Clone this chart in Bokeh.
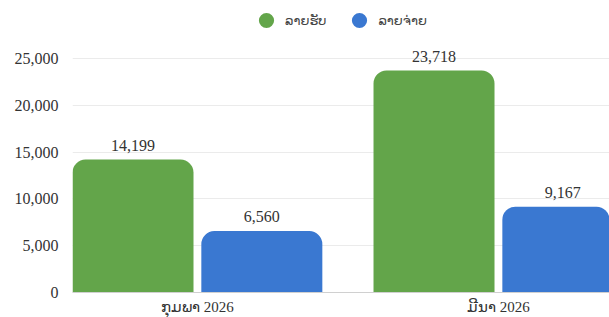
from bokeh.plotting import figure
from bokeh.models import ColumnDataSource, Range1d, FixedTicker, NumeralTickFormatter, Legend, LegendItem
from bokeh.core.properties import value
from bokeh.embed import file_html
from bokeh.resources import INLINE

months = ["ກຸມພາ 2026", "ມີນາ 2026"]
income = [14199, 23718]
expense = [6560, 9167]
series = ["ລາຍຮັບ", "ລາຍຈ່າຍ"]
y_ticks = [0, 5000, 10000, 15000, 20000, 25000]

GREEN = "#63a54a"
BLUE = "#3a78d1"
TEXT = "#333333"

pos = [i + 0.5 for i in range(len(months))]
off = 0.214
bw = 0.402

p = figure(width=609, height=317, x_range=Range1d(0.085, 1.869), y_range=Range1d(0, 31197),
           output_backend="svg", toolbar_location=None,
           min_border_left=72, min_border_right=0, min_border_top=0, min_border_bottom=25)
p.outline_line_color = None
p.background_fill_color = "white"
p.border_fill_color = "white"

src_i = ColumnDataSource(dict(x=[c - off for c in pos], top=income, lab=[f"{v:,}" for v in income]))
src_e = ColumnDataSource(dict(x=[c + off for c in pos], top=expense, lab=[f"{v:,}" for v in expense]))

p.vbar(x="x", top="top", width=bw, source=src_i, fill_color=GREEN, line_color=None,
       border_radius=(13, 13, 0, 0))
p.vbar(x="x", top="top", width=bw, source=src_e, fill_color=BLUE, line_color=None,
       border_radius=(13, 13, 0, 0))

for s in (src_i, src_e):
    p.text(x="x", y="top", text="lab", source=s, text_align="center", text_baseline="bottom",
           y_offset=-9, text_font=value("Liberation Serif"), text_font_size="16px", text_color=TEXT)

# legend swatches: zero-size markers (invisible in the plot, drawn in the legend)
g1 = p.scatter(x="x", y="top", source=src_i, size=0, marker="circle",
               fill_color=GREEN, line_color=None)
g2 = p.scatter(x="x", y="top", source=src_e, size=0, marker="circle",
               fill_color=BLUE, line_color=None)
legend = Legend(items=[LegendItem(label=series[0], renderers=[g1]),
                       LegendItem(label=series[1], renderers=[g2])],
                orientation="horizontal", location=(175, 253),
                glyph_width=38, glyph_height=38, padding=0, margin=0, spacing=14,
                label_standoff=0, border_line_alpha=0, background_fill_alpha=0,
                label_text_font="DejaVu Sans", label_text_font_size="13px",
                label_text_color="#444444", label_text_baseline="middle")
p.add_layout(legend)

# axes
p.xgrid.grid_line_color = None
p.ygrid.grid_line_color = "#ebebeb"
p.yaxis.ticker = FixedTicker(ticks=y_ticks)
p.yaxis.formatter = NumeralTickFormatter(format="0,0")
p.yaxis.axis_line_color = None
p.yaxis.major_tick_line_color = None
p.yaxis.minor_tick_line_color = None
p.yaxis.major_label_standoff = 8
p.yaxis.major_label_text_font = "Liberation Serif"
p.yaxis.major_label_text_font_size = "16px"
p.yaxis.major_label_text_color = TEXT

p.xaxis.ticker = FixedTicker(ticks=pos)
p.xaxis.major_label_overrides = {pos[i]: months[i] for i in range(len(months))}
p.xaxis.axis_line_color = "#d0d0d0"
p.xaxis.major_tick_line_color = None
p.xaxis.minor_tick_line_color = None
p.xaxis.major_label_standoff = 0
p.xaxis.major_label_text_font = "Liberation Serif"
p.xaxis.major_label_text_font_size = "15px"
p.xaxis.major_label_text_color = TEXT

open("out.html", "w").write(file_html(p, INLINE))
